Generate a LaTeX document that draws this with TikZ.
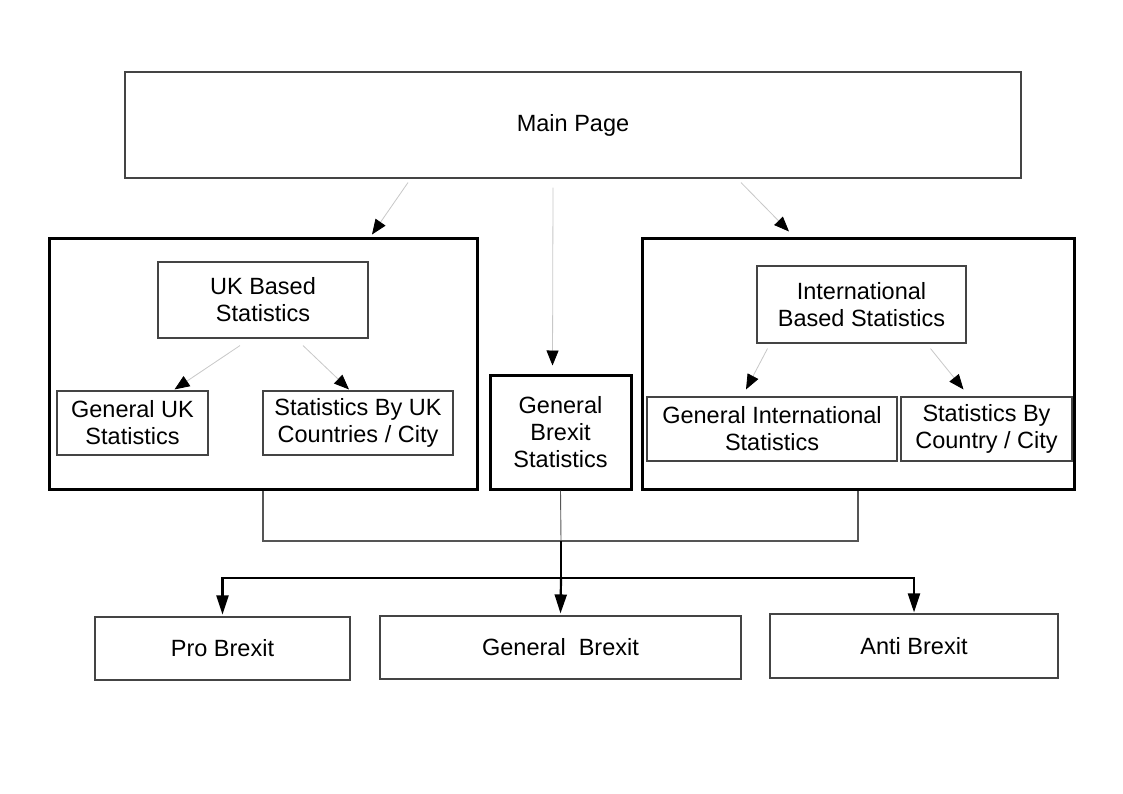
\documentclass[tikz,border=0pt]{standalone}
\usepackage{fontspec}
\setmainfont{Liberation Sans}
\usepackage{tikz}
\usetikzlibrary{positioning,arrows.meta,calc}
\definecolor{rim}{HTML}{444444}
\definecolor{faint}{HTML}{C8C8C8}
\definecolor{bus}{HTML}{555555}

\begin{document}
\begin{tikzpicture}[x=1pt, y=-1pt,
  page/.style={draw=rim, line width=1.1pt, align=center, inner sep=0pt,
    font=\fontsize{23.5}{27}\selectfont},
  group/.style={draw=black, line width=3pt, inner sep=0pt},
  link/.style={draw=faint, line width=0.8pt, -{Triangle[length=15pt,width=12pt,color=black]}},
  feed/.style={draw=bus, line width=1.2pt},
  trunk/.style={draw=black, line width=2.2pt},
  drop/.style={trunk, -{Triangle[length=19pt,width=12pt,color=black]}}]
\useasboundingbox[fill=white] (0,0) rectangle (1123,793);
% top level
\node[page, minimum width=896pt, minimum height=106pt] (main) at (573,125) {Main Page};
% UK group
\node[group, minimum width=428pt, minimum height=251pt] (ukgroup) at (263,363.5) {};
\node[page, minimum width=210pt, minimum height=76pt] (ukbased) at (263,300) {UK Based\\Statistics};
\node[page, minimum width=151pt, minimum height=64pt] (genuk) at (132.5,423) {General UK\\Statistics};
\node[page, minimum width=190pt, minimum height=64pt] (ukcity) at (358,423) {Statistics By UK\\Countries / City};
% middle
\node[page, group, minimum width=141pt, minimum height=114pt] (brexitstats) at (560.5,432) {General\\Brexit\\Statistics};
% international group
\node[group, minimum width=432pt, minimum height=251pt] (intlgroup) at (858,363.5) {};
\node[page, minimum width=209pt, minimum height=77pt] (intlbased) at (861.5,304.5) {International\\Based Statistics};
\node[page, minimum width=250pt, minimum height=64pt] (genintl) at (772,429) {General International\\Statistics};
\node[page, minimum width=171pt, minimum height=64pt] (intlcity) at (986.5,429) {Statistics By\\Country / City};
% brexit pages
\node[page, minimum width=255pt, minimum height=63pt] (pro) at (222.5,648.5) {Pro Brexit};
\node[page, minimum width=361pt, minimum height=63pt] (genbrexit) at (560.5,647.5) {General\ \ Brexit};
\node[page, minimum width=288pt, minimum height=64pt] (anti) at (914,646) {Anti Brexit};

\draw[link] ([xshift=-165pt,yshift=-4pt]main.south) -- ([xshift=109pt,yshift=2pt]ukgroup.north);
\draw[link] ([xshift=-20pt,yshift=-9pt]main.south) -- ([xshift=-8pt,yshift=8pt]brexitstats.north);
\draw[link] ([xshift=168pt,yshift=-4pt]main.south) -- ([xshift=-69pt,yshift=5pt]intlgroup.north);
\draw[link] ([xshift=-23pt,yshift=-7pt]ukbased.south) -- ([xshift=42pt,yshift=1pt]genuk.north);
\draw[link] ([xshift=40pt,yshift=-7pt]ukbased.south) -- ([xshift=-9pt,yshift=1pt]ukcity.north);
\draw[link] ([xshift=-94pt,yshift=-5pt]intlbased.south) -- ([xshift=-26pt,yshift=7pt]genintl.north);
\draw[link] ([xshift=69pt,yshift=-5pt]intlbased.south) -- ([xshift=-23pt,yshift=7pt]intlcity.north);

\coordinate (join) at (561,541);
\coordinate (hub) at (561,578);
\draw[feed] (ukgroup.south) |- (join) -| (intlgroup.south);
\draw[feed, line width=0.9pt] (brexitstats.south) -- (join);
\draw[trunk] (join) -- (hub);
\draw[drop] (hub) -| ([yshift=2pt]pro.north);
\draw[drop] (hub) -- ([yshift=2pt]genbrexit.north);
\draw[drop] (hub) -| ([yshift=1pt]anti.north);
\end{tikzpicture}
\end{document}
